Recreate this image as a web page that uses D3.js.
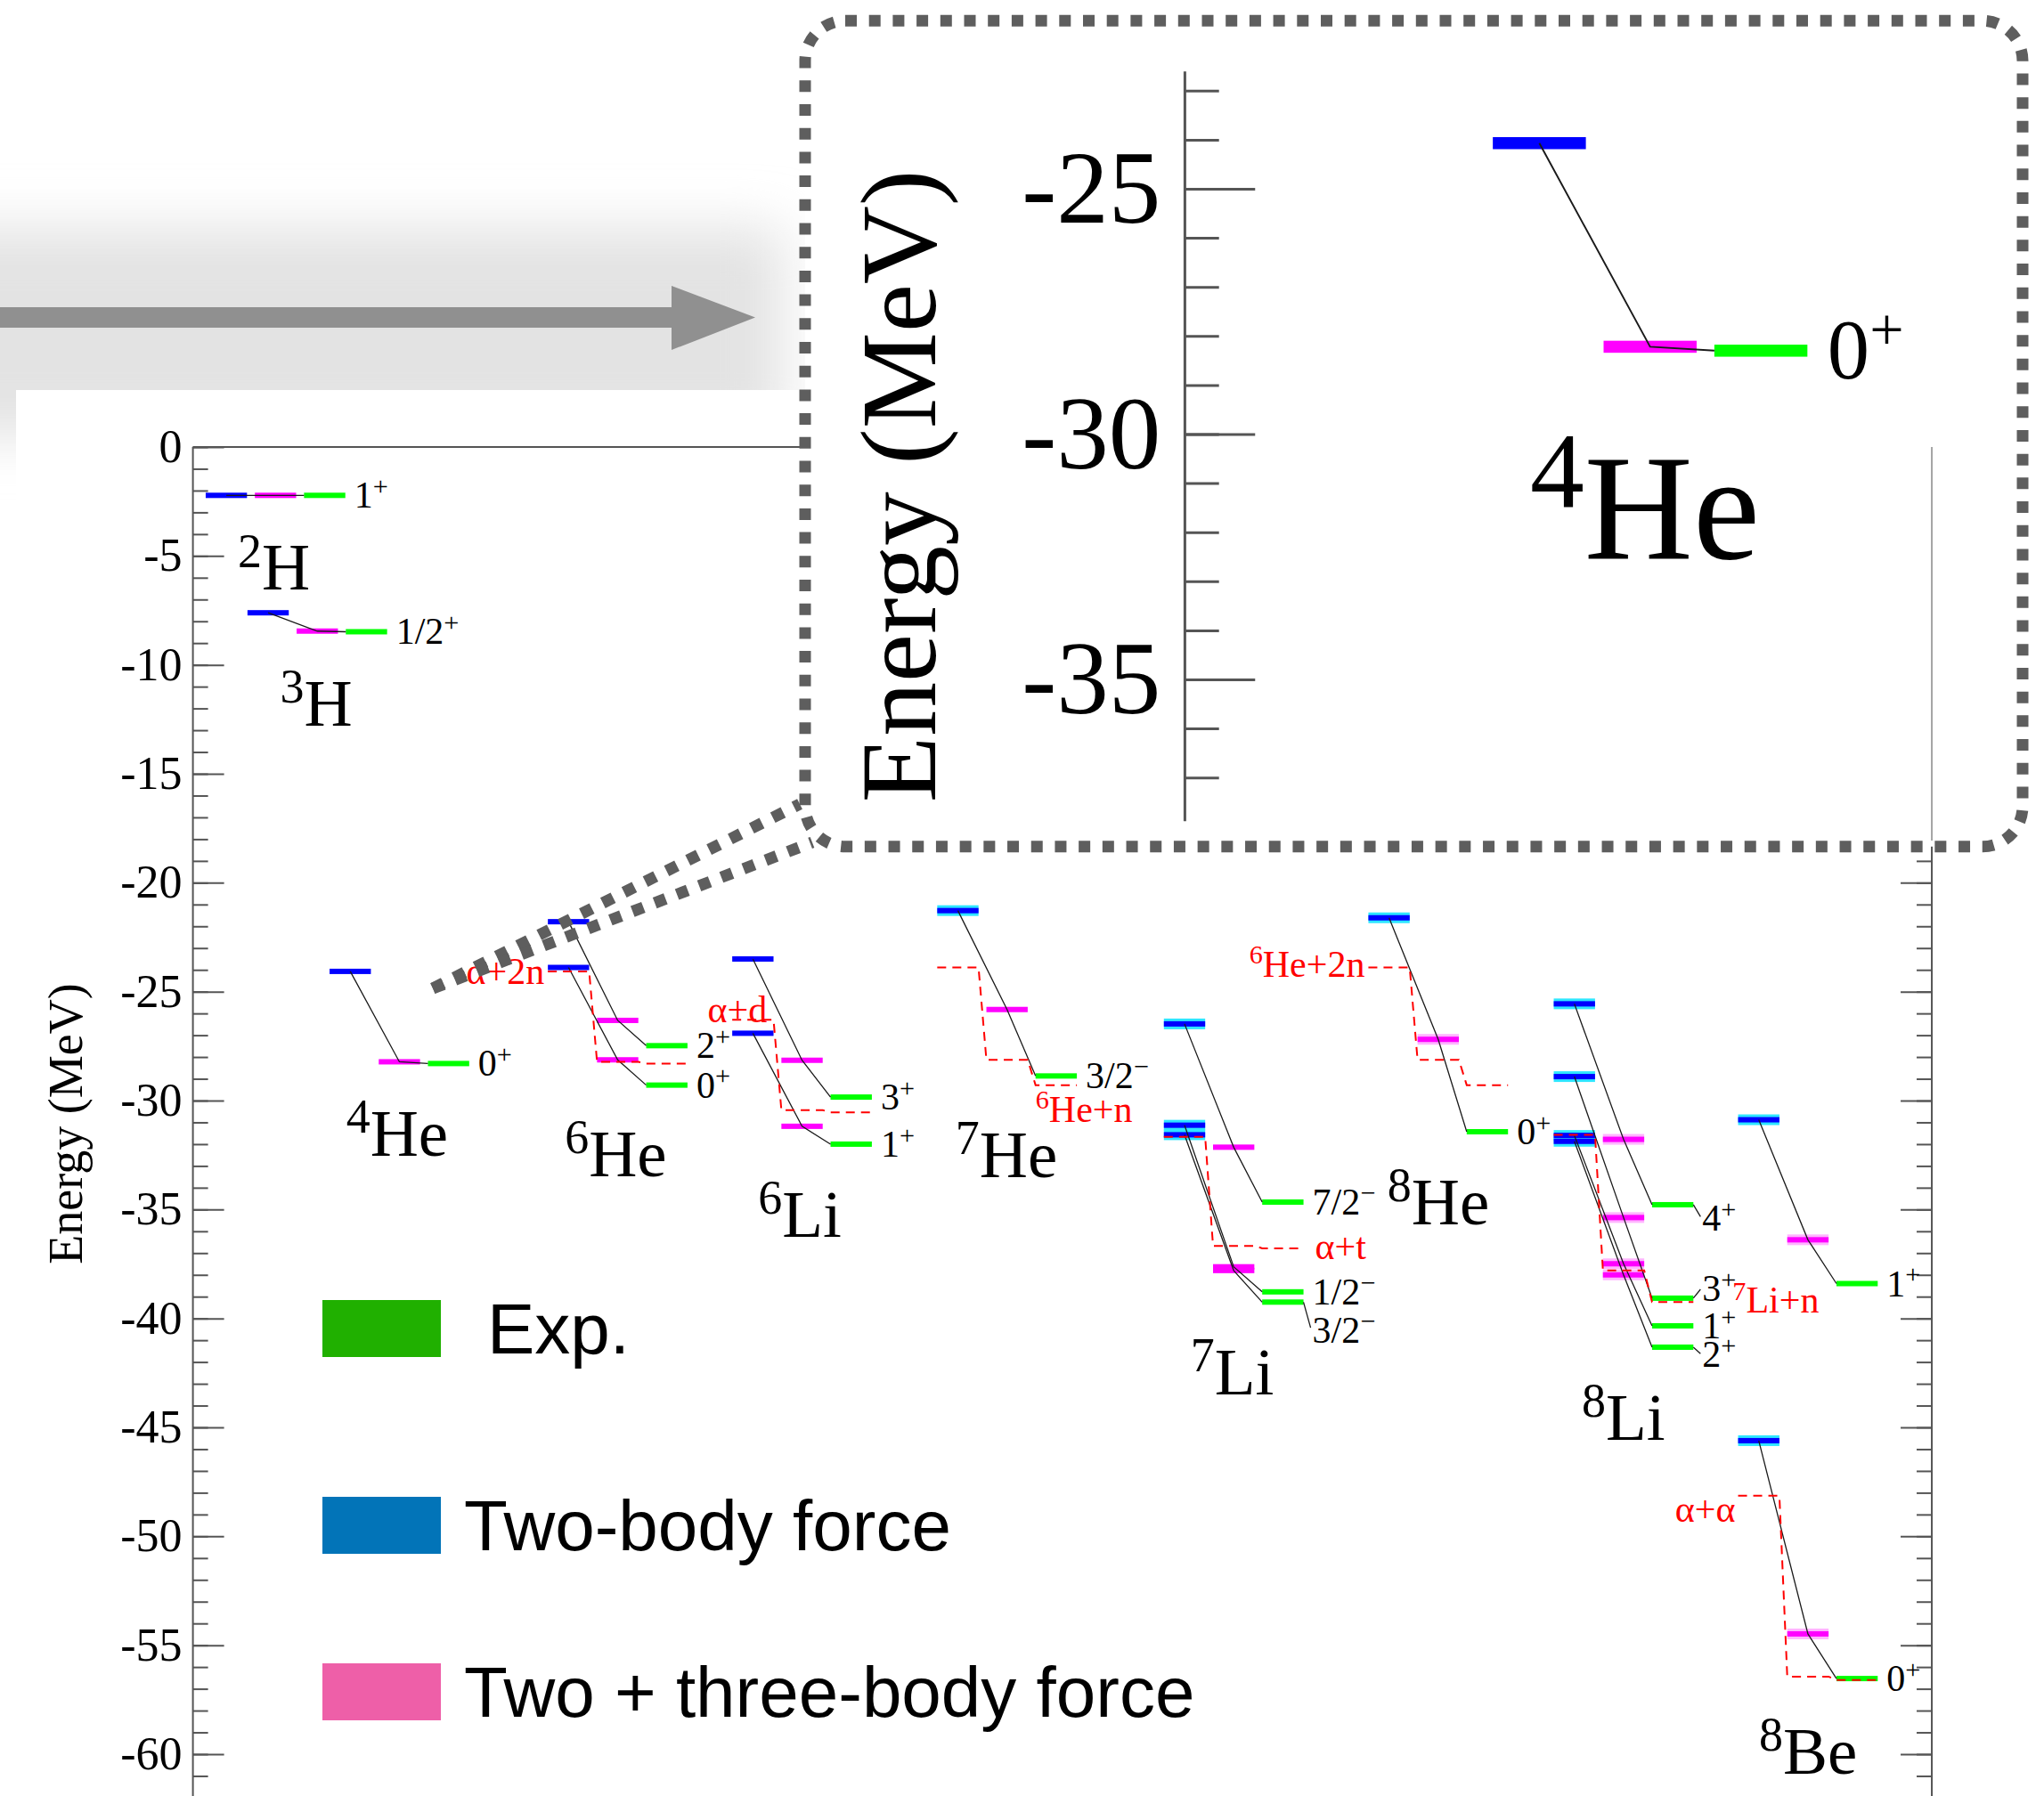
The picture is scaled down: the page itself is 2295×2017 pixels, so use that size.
<!DOCTYPE html>
<html>
<head>
<meta charset="utf-8">
<script src="https://cdn.jsdelivr.net/npm/d3@7/dist/d3.min.js"></script>
<style>
  body { margin: 0; background: #fff; }
  svg { display: block; }
</style>
</head>
<body>
<svg id="chart" width="2295" height="2017"></svg>
<script>
const W = 2295, H = 2017;

// nuclei in plot order, x position in column units from the energy axis
const nuclei = ["2H", "3H", "4He", "6He", "6Li", "7He", "7Li", "8He", "8Li", "8Be"];
const nucleusX = [0.26, 1.11, 2.78, 7.22, 10.97, 15.14, 19.75, 23.91, 27.68, 31.43];

// spin-parity of the levels for each nucleus
const spins = [["1+"], ["1/2+"], ["0+"], ["2+", "0+"], ["3+", "1+"], ["3/2−"],
  ["7/2−", "1/2−", "3/2−"], ["0+"], ["4+", "3+", "1+", "2+"], ["1+", "0+"]];

// level energies (MeV)
const twoBody = [[-2.22], [-7.61], [-24.07], [-21.79, -23.89], [-23.50, -26.91], [-21.28],
  [-26.48, -31.13, -31.57], [-21.61], [-25.56, -28.90, -31.60, -31.87], [-30.88, -45.61]];
const threeBody = [[-2.22], [-8.45], [-28.22], [-26.32, -28.13], [-28.15, -31.18], [-25.82],
  [-32.14, -37.63, -37.80], [-27.19], [-31.78, -35.37, -37.49, -38.00], [-36.39, -54.48]];
const experiment = [[-2.22], [-8.48], [-28.30], [-27.48, -29.29], [-29.84, -32.00], [-28.87],
  [-34.66, -38.78, -39.25], [-31.43], [-34.78, -39.07, -40.34, -41.32], [-38.40, -56.53]];

// breakup thresholds: [two-body, two+three-body, exp]
const thresholdNucleus = ["6He", "6Li", "7He", "7Li", "8He", "8Li", "8Be"];
const thresholdLabel = ["α+2n", "α+d", "6He+n", "α+t", "6He+2n", "7Li+n", "α+α"];
const thresholdE = [[-24.07, -28.22, -28.30], [-26.29, -30.44, -30.54], [-23.89, -28.13, -29.29],
  [-31.67, -36.67, -36.78], [-23.89, -28.13, -29.29], [-31.57, -37.80, -39.25], [-48.14, -56.44, -56.60]];

const legendLabels = ["Exp.", "Two-body force", "Two + three-body force"];
const legendColors = ["#20b000", "#0274b8", "#ee5fa8"];

// ---- layout / style (pixels at main scale) ----
const serif = "'Liberation Serif', 'Times New Roman', serif";
const sans = "'Liberation Sans', Arial, Helvetica, sans-serif";
const barColors = ["#0000ff", "#ff00ff", "#00ff00"];
const haloColors = ["#2ee6ff", "#ffb4ff", null];
const haloSets = [new Set(["7He", "7Li", "8He", "8Li", "8Be"]), new Set(["8He", "8Li", "8Be"]), new Set()];
const BW = 0.84;            // bar width in column units
const colW = 55.2;          // one column in px
const nameAt = {            // [dx px from blue column, baseline energy]
  "2H": [36, -6.54], "3H": [36.6, -12.79], "4He": [18.6, -32.53], "6He": [19, -33.47],
  "6Li": [29, -36.25], "7He": [20.4, -33.51], "7Li": [30, -43.47], "8He": [21.4, -35.68],
  "8Li": [31.5, -45.56], "8Be": [23.4, -60.89]
};
const spinShift = { "7Li": [0, 0, 32], "8Li": [15, -11, 0, 8] };
// [anchor, reference edge (0 blue left, 2 green left, 3 green right), dx, dy]
const thresholdPlace = [["end", 0, -4, 14], ["end", 0, 39, 3], ["start", 2, 0, 41], ["start", 3, 13, 12],
  ["end", 0, -4, 10], ["start", 3, 44, 12], ["end", 0, -3, 29]];

const svg = d3.select("#chart");
const defs = svg.append("defs");
defs.append("filter").attr("id", "soft")
  .attr("x", "-40%").attr("y", "-80%").attr("width", "180%").attr("height", "260%")
  .append("feGaussianBlur").attr("stdDeviation", 30);

// grey backdrop with the arrow
svg.append("rect").attr("x", -80).attr("y", 255).attr("width", 960).attr("height", 235)
  .attr("fill", "#e3e3e3").attr("filter", "url(#soft)");
svg.append("rect").attr("x", 18).attr("y", 438).attr("width", W).attr("height", H).attr("fill", "#fff");
svg.append("path").attr("d", "M0,345H754V321L848,356.5L754,393V368H0Z").attr("fill", "#909090");

function splitSup(s) {
  const parts = [];
  let m = s.match(/^(\d+)([A-Z].*)$/);
  if (m) { parts.push({ t: m[1], sup: true }); s = m[2]; }
  m = s.match(/^(.*?)([+−])$/);
  if (m && /\d$/.test(m[1])) { parts.push({ t: m[1] }); parts.push({ t: m[2], sup: true }); }
  else parts.push({ t: s });
  return parts;
}

function richText(g, x, y, parts, size, anchor, color) {
  const t = g.append("text").attr("x", x).attr("y", y).attr("text-anchor", anchor)
    .attr("font-family", serif).attr("font-size", size).attr("fill", color);
  const raise = 0.34 * size;
  let cur = 0;
  parts.forEach(p => {
    const target = p.sup ? -raise : 0;
    const s = t.append("tspan").text(p.t).attr("dy", target - cur);
    if (p.sup) s.attr("font-size", 0.72 * size);
    cur = target;
  });
  return t;
}

function drawEnergyAxis(g, xPos, Y, k, eTop, eBottom, withLabels, dir) {
  const minor = d3.range(Math.floor(eTop), Math.floor(eBottom), -1);
  const major = minor.filter(v => v % 5 === 0);
  const sw = 2 * Math.sqrt(k);
  const ag = g.append("g").attr("transform", `translate(${xPos},0)`);
  const mk = (vals, len) => (dir > 0 ? d3.axisLeft(Y) : d3.axisRight(Y))
    .tickValues(vals).tickSizeInner(-len * k).tickSizeOuter(0).tickPadding(12 * k);
  ag.append("g").call(mk(minor, 17).tickFormat(""));
  const mg = ag.append("g").call(mk(major, 35).tickFormat(d => withLabels ? String(d) : ""));
  ag.selectAll(".domain").remove();
  ag.selectAll(".tick line").attr("stroke", "#555").attr("stroke-width", sw);
  mg.selectAll("text").attr("font-family", serif).attr("font-size", 52 * k).attr("fill", "#000");
  ag.append("line").attr("y1", Y(eTop)).attr("y2", Y(eBottom))
    .attr("stroke", "#555").attr("stroke-width", sw);
}

function drawTitle(g, X, Y, k) {
  g.append("text")
    .attr("transform", `translate(${X(0) - 124.6 * k},${Y(-31.06)}) rotate(-90)`)
    .attr("text-anchor", "middle").attr("font-family", serif).attr("font-size", 54 * k)
    .attr("fill", "#000").text("Energy (MeV)");
}

function drawNucleus(g, X, Y, k, i) {
  const name = nuclei[i];
  const x0 = nucleusX[i];
  const series = [twoBody[i], threeBody[i], experiment[i]];
  const ng = g.append("g").attr("class", "nucleus");

  series.forEach((vals, c) => {
    const left = X(x0 + c), right = X(x0 + c + BW);
    if (haloSets[c].has(name)) {
      ng.selectAll(null).data(vals).join("rect")
        .attr("x", left).attr("width", right - left)
        .attr("y", d => Y(d) - 6 * k).attr("height", 12 * k).attr("fill", haloColors[c]);
    }
    ng.selectAll(null).data(vals).join("rect")
      .attr("x", left).attr("width", right - left)
      .attr("y", d => Y(d) - 3 * k).attr("height", 6 * k).attr("fill", barColors[c]);
  });

  const line = d3.line();
  ng.selectAll(null).data(spins[i].map((s, j) => j)).join("path")
    .attr("d", j => line([
      [X(x0 + BW / 2), Y(series[0][j])],
      [X(x0 + 1 + BW / 2), Y(series[1][j])],
      [X(x0 + 2), Y(series[2][j])]
    ]))
    .attr("fill", "none").attr("stroke", "#1a1a1a").attr("stroke-width", 1.3 * Math.sqrt(k));

  spins[i].forEach((s, j) => {
    const gx = X(x0 + 2 + BW), gy = Y(series[2][j]);
    const shift = (spinShift[name] || [])[j] || 0;
    if (shift) {
      ng.append("line").attr("x1", gx).attr("y1", gy).attr("x2", gx + 8 * k).attr("y2", gy + shift * 0.9 * k)
        .attr("stroke", "#1a1a1a").attr("stroke-width", 1.3 * Math.sqrt(k));
    }
    richText(ng, gx + 10 * k, gy + (14 + shift) * k, splitSup(s), 42 * k, "start", "#000");
  });

  const [dx, eb] = nameAt[name];
  richText(ng, X(x0) + dx * k, Y(eb), splitSup(name), 75 * k, "start", "#000");
}

function drawThreshold(g, X, Y, k, t) {
  const i = nuclei.indexOf(thresholdNucleus[t]);
  const x0 = nucleusX[i];
  const [eb, ep, eg] = thresholdE[t];
  const pts = [[x0, eb], [x0 + BW, eb], [x0 + 1, ep], [x0 + 1 + BW, ep], [x0 + 2, eg], [x0 + 2 + BW, eg]]
    .map(([u, e]) => [X(u), Y(e)]);
  g.append("path").attr("d", d3.line()(pts)).attr("fill", "none")
    .attr("stroke", "#ff0000").attr("stroke-width", 2 * k).attr("stroke-dasharray", `${10 * k} ${7 * k}`);
  const [anchor, ref, dx, dy] = thresholdPlace[t];
  const refX = [X(x0), 0, X(x0 + 2), X(x0 + 2 + BW)][ref];
  const refY = ref === 0 ? Y(eb) : Y(eg);
  richText(g, refX + dx * k, refY + dy * k, splitSup(thresholdLabel[t]), 42 * k, anchor, "#ff0000");
}

// ---- main panel ----
const xMain = d3.scaleLinear().domain([0, 1]).range([216.6, 216.6 + colW]);
const yMain = d3.scaleLinear().domain([0, -60]).range([502, 1970]);
const rightU = 35.37;
const main = svg.append("g");

main.append("line").attr("x1", xMain(0)).attr("x2", xMain(rightU)).attr("y1", yMain(0)).attr("y2", yMain(0))
  .attr("stroke", "#555").attr("stroke-width", 2);
drawEnergyAxis(main, xMain(0), yMain, 1, 0, -62.5, true, 1);
drawEnergyAxis(main, xMain(rightU), yMain, 1, 0, -62.5, false, -1);
drawTitle(main, xMain, yMain, 1);

nuclei.forEach((n, i) => drawNucleus(main, xMain, yMain, 1, i));
thresholdNucleus.forEach((n, t) => drawThreshold(main, xMain, yMain, 1, t));

// legend
const legendY = [1460, 1681, 1868];
const legendTextX = [547, 521, 521];
const lg = main.append("g");
lg.selectAll("rect").data(legendLabels).join("rect")
  .attr("x", 362).attr("y", (d, i) => legendY[i]).attr("width", 133).attr("height", 64)
  .attr("fill", (d, i) => legendColors[i]);
lg.selectAll("text").data(legendLabels).join("text")
  .attr("x", (d, i) => legendTextX[i]).attr("y", (d, i) => legendY[i] + 60)
  .attr("font-family", sans).attr("font-size", 80).attr("fill", "#000").text(d => d);

// ---- zoom connectors and inset ----
const dotted = { stroke: "#5e5e5e", width: 13, dash: "13 13.7" };
[[898, 903], [912, 946]].forEach(([x2, y2]) => {
  svg.append("line").attr("x1", 486).attr("y1", 1110).attr("x2", x2).attr("y2", y2)
    .attr("stroke", dotted.stroke).attr("stroke-width", dotted.width).attr("stroke-dasharray", dotted.dash);
});

svg.append("rect").attr("x", 904).attr("y", 23.3).attr("width", 1367).attr("height", 927.4)
  .attr("rx", 45).attr("ry", 45).attr("fill", "#fff")
  .attr("stroke", dotted.stroke).attr("stroke-width", dotted.width).attr("stroke-dasharray", dotted.dash);

const kIn = 2.253;
const xInset = d3.scaleLinear().domain([0, 1]).range([1330.4, 1330.4 + colW * kIn]);
const yInset = d3.scaleLinear().domain([-25, -30]).range([212, 487.5]);
const inset = svg.append("g");
drawEnergyAxis(inset, xInset(0), yInset, kIn, -22.61, -37.89, true, 1);
drawTitle(inset, xInset, yInset, kIn);
drawNucleus(inset, xInset, yInset, kIn, nuclei.indexOf("4He"));

// main right axis line shows through the inset
svg.append("line").attr("x1", xMain(rightU)).attr("x2", xMain(rightU))
  .attr("y1", yMain(0)).attr("y2", 944).attr("stroke", "#888").attr("stroke-width", 1.5);
</script>
</body>
</html>
